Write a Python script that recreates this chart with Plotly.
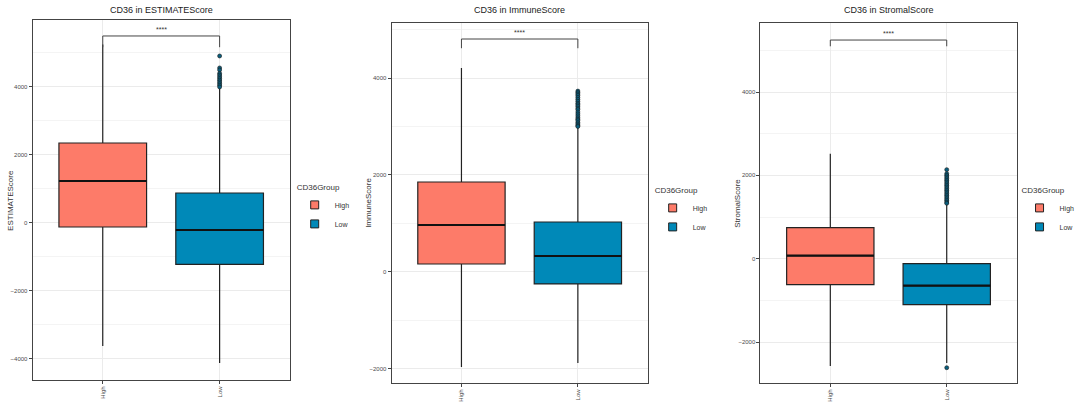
import plotly.graph_objects as go

# ---------------- data ----------------
groups = ["High", "Low"]
panel_titles = ["CD36 in ESTIMATEScore", "CD36 in ImmuneScore", "CD36 in StromalScore"]
score_names = ["ESTIMATEScore", "ImmuneScore", "StromalScore"]

# box statistics per panel: [High, Low]
q1_vals = [[-118, -1220], [165, -247], [-624, -1104]]
median_vals = [[1235, -206], [969, 330], [72, -648]]
q3_vals = [[2353, 882], [1856, 1031], [744, -120]]
lower_vals = [[-3618, -4118], [-1959, -1876], [-2576, -2504]]
upper_vals = [[5250, 3980], [4206, 2980], [2520, 1310]]

# outliers of the Low group per panel
low_outliers_est = [4912, 4560, 4500, 4400, 4350, 4300, 4250, 4200, 4150, 4100, 4050, 4000]
low_outliers_imm = [3730, 3700, 3670, 3640, 3600, 3560, 3520, 3480, 3450, 3420, 3380,
                    3350, 3300, 3260, 3220, 3180, 3150, 3120, 3080, 3050, 3020, 3000]
low_outliers_str = [2137, 2040, 2000, 1960, 1920, 1880, 1840, 1800, 1760, 1720, 1680,
                    1640, 1600, 1560, 1520, 1480, 1440, 1400, 1360, 1330, -2617]
low_outliers = [low_outliers_est, low_outliers_imm, low_outliers_str]

# significance bracket height and label per panel
sig_y = [5500, 4804, 5248]
sig_tip = [330, 190, 150]
sig_label = ["****", "****", "****"]

y_ranges = [[-4618, 5970], [-2289, 5134], [-2984, 5657]]

# ---------------- style ----------------
colors = {"High": "#FD7B69", "Low": "#0089B8"}
FONT = "Liberation Sans, Arial, sans-serif"
x_domains = [[33 / 1080, 293 / 1080], [396 / 1080, 655 / 1080], [769 / 1080, 1028 / 1080]]
y_domains = [[1 - 380 / 403, 1 - 20 / 403], [1 - 383 / 403, 1 - 23 / 403], [1 - 383 / 403, 1 - 23 / 403]]
legend_x = [298 / 1080, 660 / 1080, 1031 / 1080]
legend_y = [1 - 180 / 403, 1 - 183 / 403, 1 - 183 / 403]
ytitle_x = [10 / 1080, 372 / 1080, 745 / 1080]
legend_names = ["legend", "legend2", "legend3"]

fig = go.Figure()
layout = dict(
    width=1080, height=403,
    margin=dict(l=0, r=0, t=0, b=0),
    paper_bgcolor="white", plot_bgcolor="white",
    font=dict(family=FONT, color="#333333"),
    boxmode="overlay",
    annotations=[], shapes=[],
)

for p in range(3):
    sfx = "" if p == 0 else str(p + 1)
    xa, ya = "x" + sfx, "y" + sfx
    for g_i, g in enumerate(groups):
        fig.add_trace(go.Box(
            x=[g], q1=[q1_vals[p][g_i]], median=[median_vals[p][g_i]],
            q3=[q3_vals[p][g_i]], lowerfence=[lower_vals[p][g_i]],
            upperfence=[upper_vals[p][g_i]],
            name=g, fillcolor=colors[g],
            line=dict(color="#222222", width=1.2),
            whiskerwidth=0, width=0.75, boxpoints=False,
            xaxis=xa, yaxis=ya, showlegend=False, hoverinfo="skip",
        ))
        # thicker median line (ggplot style)
        m = median_vals[p][g_i]
        fig.add_trace(go.Box(
            x=[g], q1=[m], median=[m], q3=[m], lowerfence=[m], upperfence=[m],
            fillcolor="rgba(0,0,0,0)", line=dict(color="#111111", width=2.2),
            whiskerwidth=0, width=0.75, boxpoints=False,
            xaxis=xa, yaxis=ya, showlegend=False, hoverinfo="skip",
        ))
    fig.add_trace(go.Scatter(
        x=["Low"] * len(low_outliers[p]), y=low_outliers[p], mode="markers",
        marker=dict(color="#0A5F7E", size=4, line=dict(color="#1A1A1A", width=0.6)),
        showlegend=False, xaxis=xa, yaxis=ya, hoverinfo="skip",
    ))
    # legend keys
    for g in groups:
        fig.add_trace(go.Scatter(
            x=[None], y=[None], mode="markers", name=g,
            marker=dict(symbol="square", size=8, color=colors[g],
                        line=dict(color="#222222", width=1)),
            xaxis=xa, yaxis=ya, legend=legend_names[p], hoverinfo="skip",
        ))

    layout["xaxis" + sfx] = dict(
        domain=x_domains[p], anchor=ya, type="category",
        categoryorder="array", categoryarray=groups, range=[-0.6, 1.6],
        showline=True, mirror=True, linecolor="#444444", linewidth=1,
        showgrid=True, gridcolor="#EBEBEB", gridwidth=1,
        ticks="outside", ticklen=3, tickcolor="#444444",
        tickangle=-90, tickfont=dict(size=6, color="#4D4D4D"),
        zeroline=False, automargin=False,
    )
    layout["yaxis" + sfx] = dict(
        domain=y_domains[p], anchor=xa, range=y_ranges[p],
        dtick=2000, tick0=0,
        showline=True, mirror=True, linecolor="#444444", linewidth=1,
        showgrid=True, gridcolor="#EBEBEB", gridwidth=1,
        minor=dict(dtick=1000, showgrid=True, gridcolor="#F4F4F4", gridwidth=0.8),
        ticks="outside", ticklen=3, tickcolor="#444444",
        tickfont=dict(size=6, color="#4D4D4D"),
        zeroline=False, automargin=False,
    )
    layout[legend_names[p]] = dict(
        x=legend_x[p], y=legend_y[p], xanchor="left", yanchor="top",
        title=dict(text="CD36Group", font=dict(size=8, color="#333333")),
        font=dict(size=7, color="#333333"),
        bgcolor="rgba(0,0,0,0)", tracegroupgap=0, itemwidth=30,
    )
    # title
    xc = (x_domains[p][0] + x_domains[p][1]) / 2
    layout["annotations"].append(dict(
        text=panel_titles[p], x=xc, y=1 - 10 / 403, xref="paper", yref="paper",
        showarrow=False, xanchor="center", yanchor="middle",
        font=dict(size=9, color="#222222", family=FONT),
    ))
    # y-axis title
    layout["annotations"].append(dict(
        text=score_names[p], x=ytitle_x[p], y=(y_domains[p][0] + y_domains[p][1]) / 2,
        xref="paper", yref="paper", showarrow=False, textangle=-90,
        xanchor="center", yanchor="middle",
        font=dict(size=8, color="#333333", family=FONT),
    ))
    # significance bracket
    for (x0, y0, x1, y1) in [("High", sig_y[p] - sig_tip[p], "High", sig_y[p]),
                             ("High", sig_y[p], "Low", sig_y[p]),
                             ("Low", sig_y[p], "Low", sig_y[p] - sig_tip[p])]:
        layout["shapes"].append(dict(
            type="line", xref=xa, yref=ya, x0=x0, x1=x1, y0=y0, y1=y1,
            line=dict(color="#444444", width=1),
        ))
    layout["annotations"].append(dict(
        text=sig_label[p], x=0.5, y=sig_y[p], xref=xa, yref=ya,
        showarrow=False, yanchor="bottom", yshift=1,
        font=dict(size=7, color="#333333", family=FONT),
    ))

fig.update_layout(**layout)
fig.write_html("out.html")
